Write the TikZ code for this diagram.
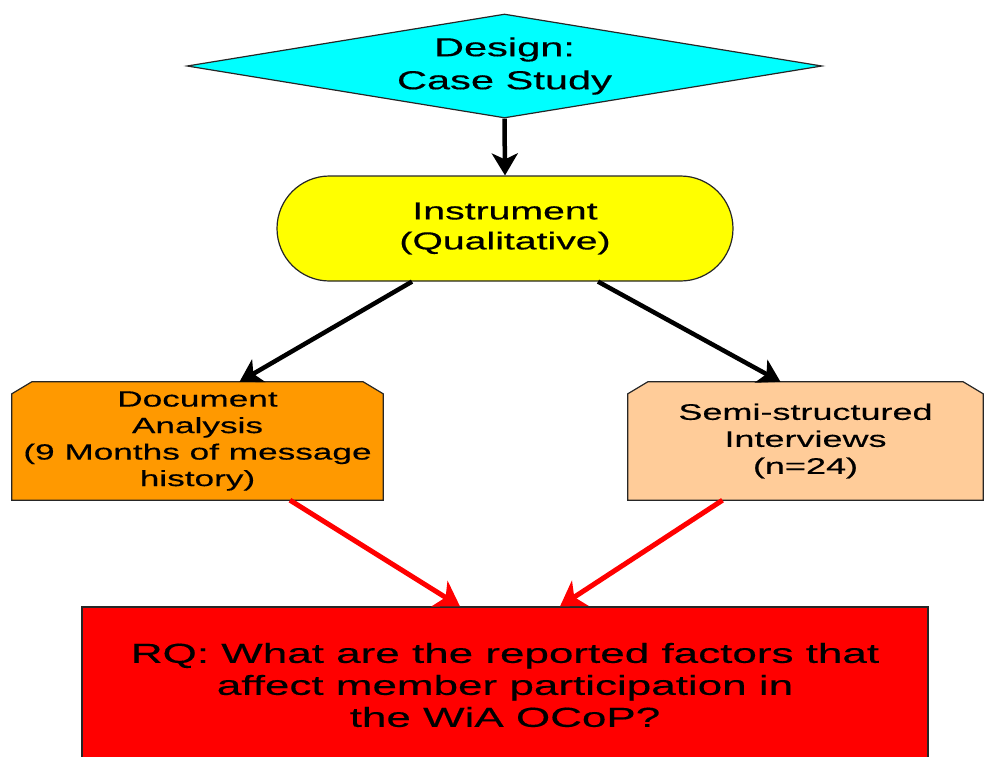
\documentclass[tikz,border=0pt]{standalone}
\usepackage{fontspec}
\setmainfont{Liberation Sans}[FakeStretch=1.6, FakeBold=0.4]
\usetikzlibrary{shapes.geometric,shapes.misc,arrows.meta,backgrounds}

\definecolor{designcyan}{RGB}{0,255,255}
\definecolor{instryellow}{RGB}{255,255,0}
\definecolor{docorange}{RGB}{255,153,0}
\definecolor{intervpeach}{RGB}{255,204,153}
\definecolor{rqred}{RGB}{255,0,0}

\begin{document}
\begin{tikzpicture}[x=1pt, y=-1pt,
    box/.style={draw=black!85, line width=1.2pt, align=center, inner sep=0pt},
    chamf/.style={align=center, inner sep=0pt, minimum height=118pt,
      font=\fontsize{22}{26.5}\selectfont},
    chamfline/.style={draw=black!85, line width=1.2pt},
    blackarrow/.style={line width=4.5pt, -{Stealth[length=22pt,width=26pt,inset=6pt]}},
    redarrow/.style={rqred, line width=5pt, -{Stealth[length=24pt,width=30pt,inset=7pt]}},
  ]
  \useasboundingbox (0,0) rectangle (984,756);

  \node[box, diamond, aspect=6.1, fill=designcyan, minimum width=635pt, minimum height=104pt,
    font=\fontsize{26}{33}\selectfont] (design) at (504.5,66) {Design:\\Case Study};
  \node[box, rounded rectangle, fill=instryellow, minimum width=456pt, minimum height=105pt,
    font=\fontsize{24.5}{30}\selectfont] (instr) at (505,228.5) {Instrument\\(Qualitative)};

  \node[chamf, minimum width=371pt]
    (docs) at (197.5,441) {Document\\Analysis\\(9 Months of message\\history)};
  \node[chamf, minimum width=355pt, font=\fontsize{22.5}{27}\selectfont]
    (interv) at (805.5,441) {Semi-structured\\Interviews\\(n=24)};

  % cut corners drawn behind the texts
  \begin{scope}[on background layer]
    \draw[chamfline, fill=docorange] (docs.south west) -- ([yshift=-12pt]docs.north west)
      -- ([xshift=20pt]docs.north west) -- ([xshift=-20pt]docs.north east)
      -- ([yshift=-12pt]docs.north east) -- (docs.south east) -- cycle;
    \draw[chamfline, fill=intervpeach] (interv.south west) -- ([yshift=-12pt]interv.north west)
      -- ([xshift=20pt]interv.north west) -- ([xshift=-20pt]interv.north east)
      -- ([yshift=-12pt]interv.north east) -- (interv.south east) -- cycle;
  \end{scope}

  \node[box, rectangle, fill=rqred, minimum width=846pt, minimum height=156pt,
    font=\fontsize{27.5}{32}\selectfont] (rq) at (505,685)
    {RQ: What are the reported factors that\\affect member participation in\\the WiA OCoP?};

  \draw[blackarrow] (design.south) -- (instr.north);
  \draw[blackarrow] ([xshift=-93pt]instr.south) -- ([xshift=42pt]docs.north);
  \draw[blackarrow] ([xshift=93pt]instr.south) -- ([xshift=-25pt]interv.north);

  \draw[redarrow] ([xshift=92.5pt]docs.south) -- ([xshift=-45pt]rq.north);
  \draw[redarrow] ([xshift=-83pt]interv.south) -- ([xshift=55pt]rq.north);
\end{tikzpicture}
\end{document}
